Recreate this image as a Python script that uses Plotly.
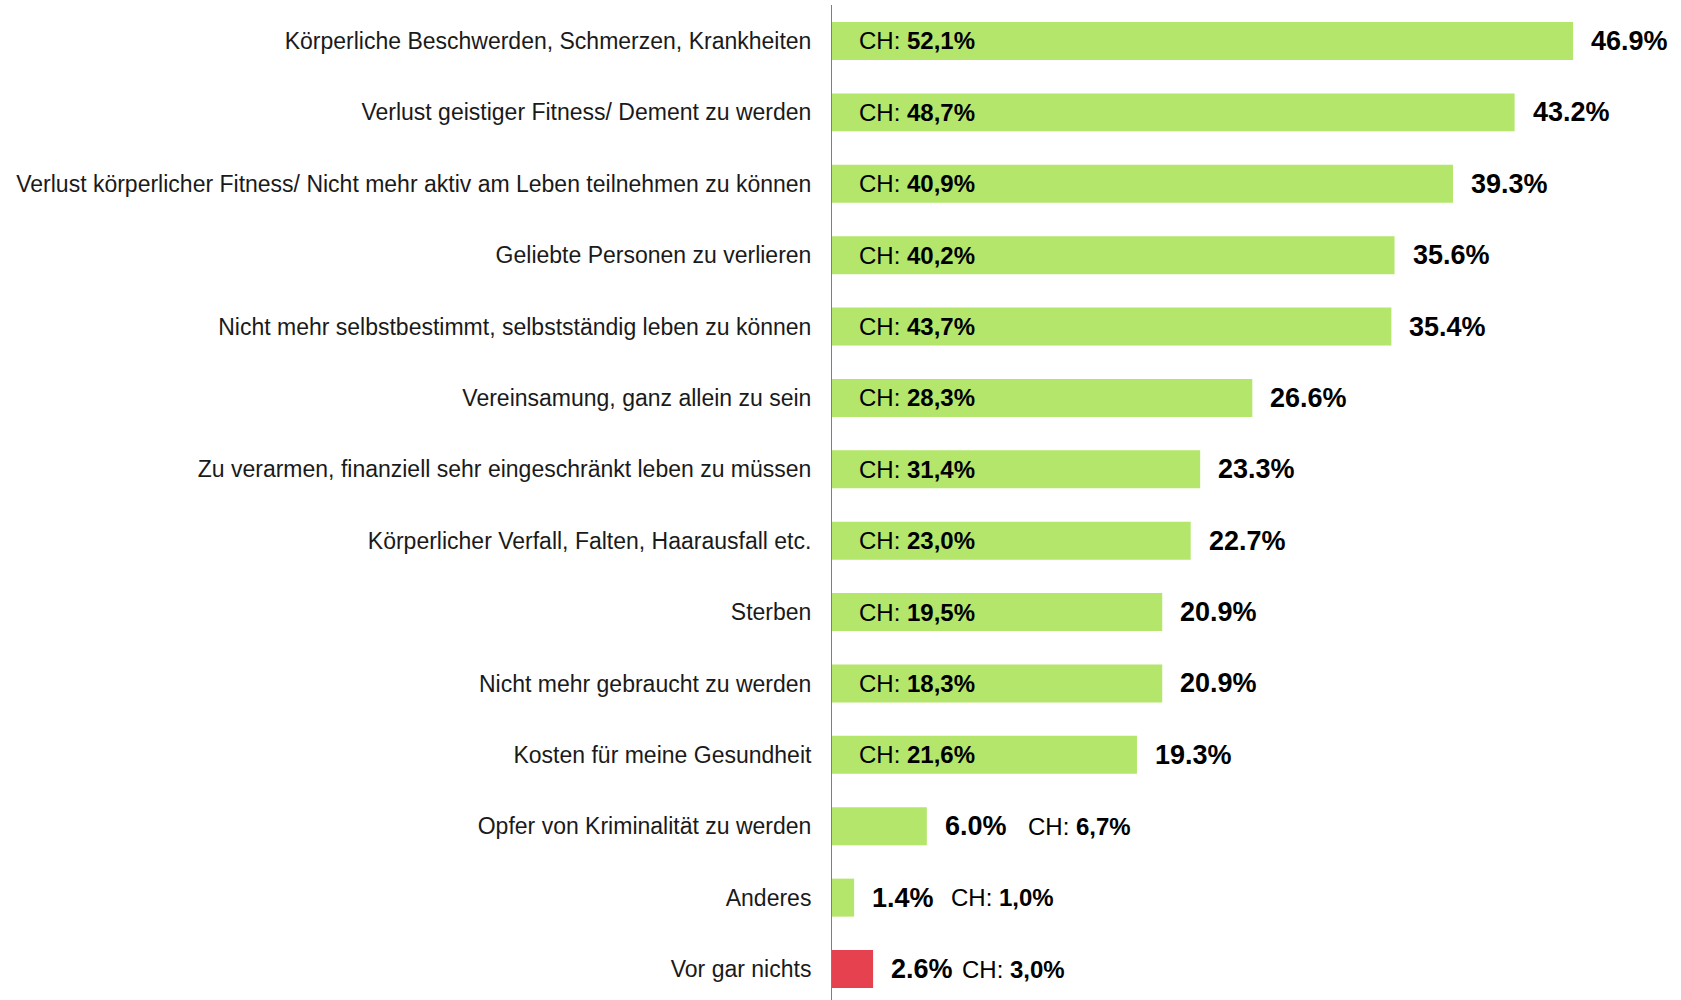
import plotly.graph_objects as go

# ---- data ----
categories = [
    "Körperliche Beschwerden, Schmerzen, Krankheiten",
    "Verlust geistiger Fitness/ Dement zu werden",
    "Verlust körperlicher Fitness/ Nicht mehr aktiv am Leben teilnehmen zu können",
    "Geliebte Personen zu verlieren",
    "Nicht mehr selbstbestimmt, selbstständig leben zu können",
    "Vereinsamung, ganz allein zu sein",
    "Zu verarmen, finanziell sehr eingeschränkt leben zu müssen",
    "Körperlicher Verfall, Falten, Haarausfall etc.",
    "Sterben",
    "Nicht mehr gebraucht zu werden",
    "Kosten für meine Gesundheit",
    "Opfer von Kriminalität zu werden",
    "Anderes",
    "Vor gar nichts",
]
values = [46.9, 43.2, 39.3, 35.6, 35.4, 26.6, 23.3, 22.7, 20.9, 20.9, 19.3, 6.0, 1.4, 2.6]
ch_labels = ["52,1%", "48,7%", "40,9%", "40,2%", "43,7%", "28,3%", "31,4%",
             "23,0%", "19,5%", "18,3%", "21,6%", "6,7%", "1,0%", "3,0%"]

# ---- style ----
GREEN = "#B3E66B"
RED = "#E5414F"
FONT = "Liberation Sans, Arial, sans-serif"
bar_colors = [RED if c == "Vor gar nichts" else GREEN for c in categories]
INSIDE_MIN = 10  # bars at least this long carry the CH label inside
ch_outside_shift = {"Opfer von Kriminalität zu werden": 99,
                    "Anderes": 95,
                    "Vor gar nichts": 87}

fig = go.Figure(go.Bar(
    x=values, y=categories, orientation="h",
    marker=dict(color=bar_colors, line=dict(width=0)),
    width=0.532, hoverinfo="skip",
))

annotations = []
for cat, v, ch in zip(categories, values, ch_labels):
    annotations.append(dict(
        x=v, y=cat, xref="x", yref="y", xanchor="left", yanchor="middle",
        xshift=16, yshift=0, showarrow=False,
        text=f"<b>{v:.1f}%</b>",
        font=dict(family=FONT, size=27, color="#000000"),
    ))
    if v >= INSIDE_MIN:
        annotations.append(dict(
            x=0, y=cat, xref="x", yref="y", xanchor="left", yanchor="middle",
            xshift=25, showarrow=False,
            text=f"CH: <b>{ch}</b>",
            font=dict(family=FONT, size=24, color="#000000"),
        ))
    else:
        annotations.append(dict(
            x=v, y=cat, xref="x", yref="y", xanchor="left", yanchor="middle",
            xshift=ch_outside_shift.get(cat, 90), showarrow=False,
            text=f"CH: <b>{ch}</b>",
            font=dict(family=FONT, size=24, color="#000000"),
        ))

fig.update_layout(
    width=1681, height=1000,
    margin=dict(l=832, r=0, t=5, b=0),
    paper_bgcolor="white", plot_bgcolor="white",
    showlegend=False,
    annotations=annotations,
    xaxis=dict(range=[0, 53.73], visible=False, fixedrange=True),
    yaxis=dict(
        type="category", categoryorder="array", categoryarray=categories,
        range=[13.434, -0.504],
        showline=True, linecolor="#7f7f7f", linewidth=1,
        showgrid=False, zeroline=False, ticks="",
        ticklabelstandoff=15,
        tickfont=dict(family=FONT, size=23, color="#1a1a1a"),
        fixedrange=True,
    ),
)

fig.write_html(
    "out.html",
    config={"displayModeBar": False, "staticPlot": True},
    post_script="document.body.style.margin='0';document.body.style.overflow='hidden';",
)
